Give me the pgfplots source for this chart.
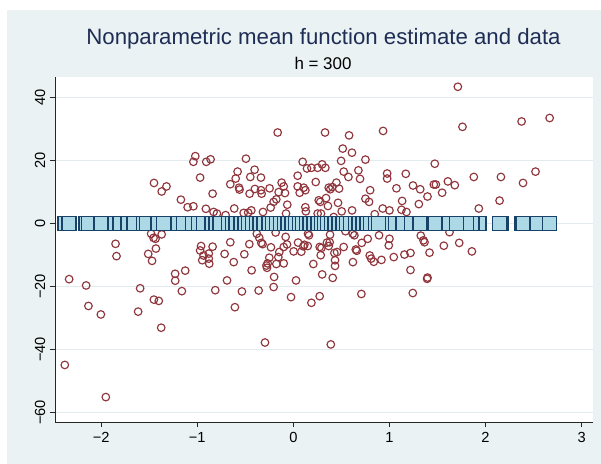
\documentclass[border=0pt]{standalone}
\usepackage{fontspec}
\setmainfont{Liberation Sans}
\usepackage{pgfplots}
\usepackage{pgfplotstable}
\pgfplotsset{compat=1.18}
\definecolor{bg}{RGB}{234,242,243}
\definecolor{stnavy}{RGB}{24,66,104}
\definecolor{stmaroon}{RGB}{144,53,59}
\definecolor{stlb}{RGB}{173,216,230}
\definecolor{ttl}{RGB}{30,45,85}
\definecolor{gridc}{RGB}{226,236,239}

\pgfplotstableread{
x y m
-0.163 28.8 0
0.33 28.8 0
-1.02 21.3 0
-1.04 19.5 0
-0.906 19.5 0
-0.861 20.3 0
-0.493 20.5 0
-0.97 14.5 0
-1.45 12.8 0
-1.32 11.7 0
-1.37 10.1 0
-1.17 7.5 0
-1.10 5.1 0
-1.04 5.4 0
-0.91 4.6 0
-0.84 9.4 0
-0.83 3.6 0
-0.795 3.1 0
-0.705 2.6 0
-0.656 12.4 0
-0.615 4.7 0
-0.58 16.4 0
-0.60 14.2 0
-0.565 11.3 0
-0.56 10.7 0
-0.448 14.7 0
-0.403 17.0 0
-0.337 14.5 0
-0.455 9.4 0
-0.40 10.9 0
-0.337 10.5 0
-0.33 9.4 0
-0.247 11.1 0
-0.517 3.3 0
-0.47 3.4 0
-0.437 4.1 0
-0.316 3.6 0
-0.236 5.0 0
-0.205 6.8 0
-0.177 7.6 0
-0.153 9.9 0
-0.122 12.9 0
-0.10 11.7 0
-0.087 9.6 0
-0.063 5.9 0
-0.076 3.1 0
0.045 15.1 0
0.097 19.5 0
0.142 17.4 0
0.188 17.6 0
0.253 17.6 0
0.30 18.7 0
0.333 17.6 0
0.233 13.1 0
0.045 11.7 0
0.108 11.3 0
0.125 10.5 0
0.066 9.7 0
0.368 11.3 0
0.125 5.1 0
0.13 3.8 0
0.264 7.3 0
0.34 8.0 0
0.36 5.5 0
0.253 3.1 0
-1.85 -6.5 0
-1.84 -10.4 0
-1.51 -9.7 0
-1.47 -11.9 0
-1.43 -8.0 0
-1.48 -3.3 0
-1.455 -4.6 0
-1.434 -4.9 0
-1.37 -3.5 0
-1.23 -16.0 0
-1.125 -15.0 0
-0.96 -7.2 0
-0.97 -8.6 0
-0.934 -10.2 0
-0.88 -9.6 0
-0.88 -11.2 0
-0.875 -12.8 0
-0.948 -11.7 0
-0.84 -7.4 0
-0.715 -9.7 0
-0.656 -6.0 0
-0.62 -12.3 0
-0.69 -18.1 0
-0.51 -9.8 0
-0.458 -6.6 0
-0.434 -14.9 0
-0.38 -3.3 0
-0.354 -4.6 0
-0.333 -6.2 0
-0.32 -6.6 0
-0.267 -12.7 0
-0.28 -13.4 0
-0.274 -14.1 0
-0.233 -7.6 0
-0.20 -17.0 0
-0.177 -12.9 0
-0.10 -12.7 0
-0.146 -9.1 0
-0.156 -10.7 0
-0.10 -7.5 0
-0.066 -6.7 0
-0.08 -4.3 0
-0.184 -2.9 0
0.003 -8.9 0
0.049 -6.1 0
0.083 -9.0 0
0.104 -7.3 0
0.115 -6.8 0
0.15 -7.2 0
0.153 -3.3 0
0.208 -12.9 0
0.274 -7.5 0
0.285 -10.1 0
0.30 -16.2 0
0.35 -6.1 0
0.028 -18.1 0
1.712 43.3 0
1.76 30.6 0
2.375 32.3 0
2.667 33.4 0
0.58 27.9 0
0.934 29.3 0
0.514 23.7 0
0.61 22.4 0
0.497 19.8 0
0.75 20.2 0
0.524 16.4 0
0.677 16.8 0
0.573 14.7 0
0.694 14.1 0
0.976 15.8 0
0.976 14.2 0
1.17 15.7 0
1.472 18.9 0
1.878 14.7 0
2.16 14.7 0
2.52 16.4 0
2.39 12.8 0
0.448 12.9 0
0.406 11.5 0
0.385 10.8 0
0.476 11.0 0
0.799 10.5 0
1.073 11.1 0
1.245 12.0 0
1.32 10.8 0
1.462 12.3 0
1.483 12.3 0
1.608 13.3 0
1.68 12.1 0
1.548 9.7 0
1.396 8.5 0
0.75 7.8 0
0.788 6.8 0
1.132 7.1 0
1.306 6.1 0
2.146 7.2 0
1.93 4.7 0
0.465 6.5 0
0.28 6.8 0
0.288 3.1 0
0.42 2.0 0
0.503 3.8 0
0.611 4.1 0
0.847 2.9 0
0.93 4.7 0
1.0 4.1 0
1.125 4.3 0
1.177 3.6 0
1.625 -2.8 0
0.163 -3.8 0
0.382 -3.6 0
0.542 -2.5 0
0.618 -3.3 0
0.635 -3.8 0
0.892 -3.8 0
1.0 -4.9 0
0.993 -7.0 0
1.326 -3.9 0
1.354 -5.4 0
1.365 -6.0 0
1.566 -7.1 0
1.726 -6.2 0
1.858 -8.9 0
1.417 -9.3 0
1.219 -9.4 0
1.156 -9.9 0
0.774 -4.9 0
0.712 -6.2 0
0.524 -7.5 0
0.455 -9.1 0
0.427 -9.4 0
0.368 -7.2 0
0.378 -6.0 0
0.292 -7.8 0
0.65 -8.3 0
0.66 -8.7 0
0.795 -10.2 0
0.81 -11.2 0
0.837 -12.2 0
0.917 -11.6 0
1.045 -10.7 0
0.62 -12.3 0
0.434 -11.7 0
0.434 -13.5 0
0.41 -17.3 0
1.219 -14.8 0
1.396 -17.2 0
-2.378 -44.9 0
-1.951 -55.1 0
-2.333 -17.7 0
-2.156 -19.7 0
-2.132 -26.2 0
-2.003 -28.9 0
-1.594 -20.6 0
-1.615 -28.0 0
-1.451 -24.2 0
-1.40 -24.6 0
-1.375 -33.1 0
-1.229 -18.2 0
-1.16 -21.5 0
-0.8125 -21.2 0
-0.608 -26.6 0
-0.535 -21.6 0
-0.361 -21.3 0
-0.295 -37.8 0
-0.205 -20.2 0
-0.25 -10.9 0
-0.024 -23.4 0
0.188 -25.2 0
0.274 -23.1 0
0.39 -38.4 0
0.708 -22.4 0
1.243 -22.1 0
1.392 -17.6 0
-1.72 0.5 0
-1.66 -0.6 0
-1.56 0.8 0
-1.30 -0.4 0
-1.26 0.9 0
-1.20 -0.7 0
-1.08 0.3 0
-1.00 -0.9 0
-0.95 0.6 0
-0.90 -0.2 0
-0.86 0.8 0
-0.78 -0.5 0
-0.74 0.4 0
-0.68 -0.8 0
-0.64 0.7 0
-0.55 -0.3 0
-0.50 0.9 0
-0.42 -0.6 0
-0.36 0.2 0
-0.30 -0.9 0
-0.26 0.6 0
-0.22 -0.4 0
-0.14 0.8 0
-0.12 -0.7 0
-0.04 0.3 0
0.00 -0.5 0
0.02 0.9 0
0.06 -0.8 0
0.12 0.4 0
0.18 -0.3 0
0.22 0.7 0
0.26 -0.6 0
0.32 0.5 0
0.36 -0.9 0
0.44 0.2 0
0.48 -0.4 0
0.55 0.8 0
0.59 -0.7 0
0.64 0.6 0
0.70 -0.2 0
0.74 0.9 0
0.82 -0.5 0
0.87 0.4 0
0.95 -0.8 0
1.03 0.7 0
1.09 -0.3 0
1.20 0.5 0
1.28 -0.6 0
1.37 0.8 0
1.44 -0.4 0
1.52 0.3 0
1.57 -0.7 0
1.66 0.6 0
1.80 -0.5 0
-1.53 0.4 0
-1.41 -0.3 0
-1.35 0.6 0
-1.14 -0.5 0
-1.05 0.7 0
-0.98 0.1 0
-0.92 -0.6 0
-0.88 0.5 0
-0.82 -0.2 0
-0.76 0.8 0
-0.72 -0.7 0
-0.70 0.2 0
-0.66 -0.4 0
-0.62 0.9 0
-0.58 -0.1 0
-0.53 0.5 0
-0.48 -0.8 0
-0.45 0.3 0
-0.44 -0.2 0
-0.39 0.6 0
-0.34 -0.5 0
-0.32 0.1 0
-0.28 0.7 0
-0.24 -0.3 0
-0.19 0.4 0
-0.16 -0.8 0
-0.13 0.2 0
-0.09 -0.6 0
-0.06 0.5 0
-0.02 -0.1 0
0.01 0.6 0
0.04 -0.4 0
0.08 0.8 0
0.10 -0.7 0
0.14 0.1 0
0.16 -0.2 0
0.20 0.5 0
0.24 -0.9 0
0.28 0.3 0
0.30 -0.5 0
0.34 0.6 0
0.38 -0.1 0
0.40 0.9 0
0.42 -0.6 0
0.46 0.4 0
0.50 -0.3 0
0.52 0.7 0
0.57 -0.8 0
0.61 0.2 0
0.63 -0.5 0
0.67 0.8 0
0.72 -0.4 0
0.76 0.1 0
0.79 -0.7 0
0.84 0.6 0
0.90 -0.2 0
0.98 0.5 0
1.06 -0.6 0
1.14 0.3 0
1.23 -0.4 0
1.32 0.6 0
1.48 -0.2 0
1.62 0.4 0
1.70 -0.3 0
-0.985 0.2 0
-0.935 -0.4 0
-0.845 0.6 0
-0.805 -0.1 0
-0.765 0.3 0
-0.675 -0.6 0
-0.635 0.1 0
-0.595 0.5 0
-0.545 -0.7 0
-0.505 0.2 0
-0.465 -0.3 0
-0.425 0.7 0
-0.385 -0.5 0
-0.345 0.4 0
-0.305 0.0 0
-0.255 -0.8 0
-0.215 0.5 0
-0.175 -0.2 0
-0.135 0.6 0
-0.095 -0.4 0
-0.055 0.1 0
-0.015 -0.7 0
0.025 0.3 0
0.065 -0.1 0
0.095 0.6 0
0.135 -0.5 0
0.175 0.2 0
0.215 -0.6 0
0.255 0.4 0
0.295 -0.2 0
0.325 0.7 0
0.355 -0.4 0
0.395 0.1 0
0.435 -0.7 0
0.475 0.5 0
0.515 -0.1 0
0.555 0.3 0
0.595 -0.5 0
0.645 0.7 0
0.685 -0.3 0
0.725 0.2 0
0.765 -0.6 0
0.805 0.4 0
0.855 -0.2 0
0.885 0.6 0
}\datatable

\begin{document}
\begin{tikzpicture}
\fill[white] (0bp,0bp) rectangle (601bp,-464bp);
\fill[bg] (7bp,-10bp) rectangle (601bp,-464bp);
\begin{axis}[
  at={(55bp,-422bp)}, anchor=south west,
  scale only axis, width=537.5bp, height=345bp,
  xmin=-2.48, xmax=3.113, ymin=-63.0, ymax=46.4,
  axis background/.style={fill=white},
  axis x line*=bottom, axis y line*=left,
  axis line style={-, line width=0.8bp, color=black!85},
  xtick={-2,-1,0,1,2,3}, xticklabels={−2,−1,0,1,2,3},
  ytick={-60,-40,-20,0,20,40}, yticklabels={−60,−40,−20,0,20,40},
  tick align=outside, major tick length=5bp,
  tick style={line width=0.8bp, color=black!85},
  ymajorgrids, grid style={line width=0.9bp, color=gridc},
  ticklabel style={font=\fontsize{14.7}{16}\selectfont},
  yticklabel style={rotate=90, anchor=south, inner sep=0pt},
  xticklabel style={anchor=north, inner sep=0pt},
  yticklabel shift={4.5bp}, xticklabel shift={5bp},
  clip=false,
]
\addplot[only marks, mark=o, mark size=3.8bp, mark options={line width=1.15bp, draw=stmaroon}] table[x=x, y=y] {\datatable};
\addplot[only marks, mark=square*, mark size=7bp, mark options={line width=1.4bp, draw=stnavy, fill=stlb}] table[x=x, y=m] {\datatable};
\end{axis}
\node[anchor=base, inner sep=0pt, font=\fontsize{22.3}{26}\selectfont, text=ttl] at (323.5bp,-44.3bp) {Nonparametric mean function estimate and data};
\node[anchor=base, inner sep=0pt, font=\fontsize{17}{20}\selectfont] at (323bp,-69bp) {h = 300};
\end{tikzpicture}
\end{document}
